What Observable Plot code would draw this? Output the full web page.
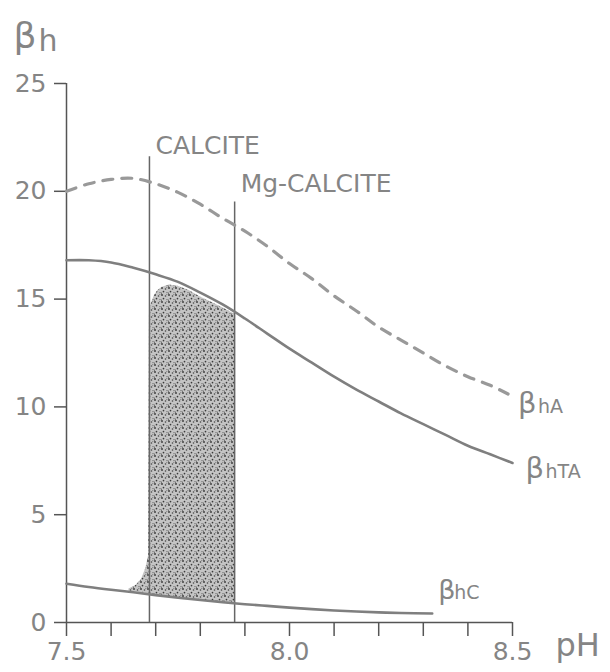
<!DOCTYPE html>
<html><head><meta charset="utf-8">
<script src="https://cdn.jsdelivr.net/npm/d3@7"></script>
<script src="https://cdn.jsdelivr.net/npm/@observablehq/plot@0.6"></script>
<style>
body{margin:0;background:#fff;}
#chart text{fill:#858585;}
</style></head><body><div id="chart"></div>
<script>
// pH grid used for the curves
const pH = [7.50,7.55,7.60,7.65,7.70,7.75,7.80,7.85,7.90,7.95,8.00,8.05,8.10,8.15,8.20,8.25,8.30,8.35,8.40,8.45,8.50];
// beta_hA (dashed)
const pHA = [7.50,7.55,7.60,7.65,7.70,7.75,7.80,7.85,7.90,7.95,8.00,8.05,8.10,8.15,8.20,8.25,8.30,8.35,8.40,8.45,8.49];
const betaHA = [20.0,20.35,20.55,20.6,20.35,19.95,19.4,18.75,18.15,17.45,16.65,15.95,15.15,14.45,13.7,13.1,12.5,11.9,11.4,11.0,10.6];
// beta_hTA (solid)
const betaHTA = [16.8,16.8,16.7,16.45,16.15,15.8,15.3,14.75,14.1,13.4,12.7,12.05,11.4,10.8,10.25,9.7,9.2,8.7,8.2,7.8,7.4];
// beta_hC (solid, lower)
const pHC = [7.50,7.55,7.60,7.65,7.70,7.75,7.80,7.85,7.90,7.95,8.00,8.05,8.10,8.15,8.20,8.25,8.32];
const betaHC = [1.80,1.65,1.52,1.40,1.27,1.15,1.04,0.94,0.85,0.77,0.69,0.62,0.56,0.51,0.47,0.44,0.42];
// shaded region between CALCITE and Mg-CALCITE
const shadePH  = [7.640,7.655,7.668,7.678,7.684,7.686,7.690,7.697,7.705,7.715,7.730,7.750,7.775,7.800,7.825,7.850,7.877];
const shadeLow = [1.45,1.41,1.38,1.35,1.33,1.32,1.31,1.29,1.27,1.25,1.21,1.15,1.10,1.04,0.99,0.94,0.90];
const shadeTop = [1.55,1.7,2.0,2.5,3.1,14.3,14.8,15.15,15.4,15.55,15.65,15.6,15.4,15.1,14.85,14.6,14.3];
// vertical markers
const markerNames = ["CALCITE","Mg-CALCITE"];
const markerPH = [7.686,7.877];
const markerTop = [21.6,19.5];
// ticks
const xTicks = [7.5,7.6,7.7,7.8,7.9,8.0,8.1,8.2,8.3,8.4,8.5];
const xTickLabels = {"7.5":"7.5","8":"8.0","8.5":"8.5"};
const yTicks = [0,5,10,15,20,25];
const curveSubs = ["hA","hTA","hC"];

const rowsA = pHA.map((x,i)=>({x,y:betaHA[i]}));
const rowsTA = pH.map((x,i)=>({x,y:betaHTA[i]}));
const rowsC = pHC.map((x,i)=>({x,y:betaHC[i]}));
const rowsShade = shadePH.map((x,i)=>({x,y1:shadeLow[i],y2:shadeTop[i]}));
const markers = markerNames.map((name,i)=>({name,x:markerPH[i],top:markerTop[i]}));
const ends = [rowsA.at(-1), rowsTA.at(-1), rowsC.at(-1)].map((d,i)=>({...d,sub:curveSubs[i]}));
const endOff = [{bx:10,by:19,sx:30,sy:19,bf:29},{bx:13,by:15,sx:33,sy:15,bf:29},{bx:6,by:-14,sx:22,sy:-14,bf:27}];
const markerDy = [-3,-10];

const F = "DejaVu Sans";
const chart = Plot.plot({
  width:610, height:672,
  marginLeft:66, marginRight:98, marginTop:83, marginBottom:50,
  style:{fontFamily:F, fontSize:"25px", color:"#555", background:"#fff"},
  x:{domain:[7.5,8.5], ticks:xTicks, tickSize:14, tickPadding:6, label:null,
     tickFormat:d=>xTickLabels[String(+d.toFixed(2))] ?? ""},
  y:{domain:[0,25], ticks:yTicks, tickSize:12, tickPadding:8, label:null},
  marks:[
    Plot.areaY(rowsShade,{x:"x",y1:"y1",y2:"y2",fill:"url(#stipple)",curve:"linear"}),
    Plot.ruleY([0],{stroke:"#555",strokeWidth:1.5}),
    Plot.ruleX([7.5],{stroke:"#555",strokeWidth:1.5}),
    Plot.ruleX(markers,{x:"x",y1:0,y2:"top",stroke:"#666",strokeWidth:1.5}),
    Plot.line(rowsA,{x:"x",y:"y",stroke:"#999",strokeWidth:3.2,strokeDasharray:"10,9",strokeLinecap:"round",curve:"catmull-rom"}),
    Plot.line(rowsTA,{x:"x",y:"y",stroke:"#7f7f7f",strokeWidth:2.6,curve:"catmull-rom"}),
    Plot.line(rowsC,{x:"x",y:"y",stroke:"#7f7f7f",strokeWidth:2.6,curve:"catmull-rom"}),
    ...markers.map((m,i)=>Plot.text([m],{x:"x",y:"top",text:"name",textAnchor:"start",lineAnchor:"bottom",dx:6,dy:markerDy[i],fontFamily:F,fontSize:25})),
    ...ends.map((d,i)=>Plot.text([d],{x:"x",y:"y",text:()=>"β",textAnchor:"start",lineAnchor:"bottom",dx:endOff[i].bx,dy:endOff[i].by,fontFamily:F,fontSize:endOff[i].bf})),
    ...ends.map((d,i)=>Plot.text([d],{x:"x",y:"y",text:"sub",textAnchor:"start",lineAnchor:"bottom",dx:endOff[i].sx,dy:endOff[i].sy,fontFamily:F,fontSize:19})),
    Plot.text(["β"],{frameAnchor:"top-left",text:d=>d,textAnchor:"start",lineAnchor:"bottom",dx:-53,dy:-36,fontFamily:F,fontSize:36}),
    Plot.text(["h"],{frameAnchor:"top-left",text:d=>d,textAnchor:"start",lineAnchor:"bottom",dx:-28,dy:-33,fontFamily:F,fontSize:30}),
    Plot.text(["pH"],{frameAnchor:"bottom-right",text:d=>d,textAnchor:"start",lineAnchor:"bottom",dx:43,dy:33,fontFamily:F,fontSize:32})
  ]
});
const svg = d3.select(chart);
svg.selectAll("g[aria-label*='axis'] path, g[aria-label*='axis'] line").attr("stroke-width",1.5).attr("stroke","#555");
const defs = svg.insert("defs",":first-child");
const pat = defs.append("pattern").attr("id","stipple").attr("width",7).attr("height",7).attr("patternUnits","userSpaceOnUse");
pat.append("rect").attr("width",7).attr("height",7).attr("fill","#c4c4c4");
[[1,1,0.9,"#333"],[4.5,2,0.8,"#444"],[2.5,4.6,0.85,"#3a3a3a"],[6,5.6,0.7,"#666"],[5.8,0.3,0.6,"#777"],[0.4,6.2,0.6,"#555"]]
  .forEach(([cx,cy,r,f])=>pat.append("circle").attr("cx",cx).attr("cy",cy).attr("r",r).attr("fill",f));
document.getElementById("chart").appendChild(chart);
</script></body></html>
